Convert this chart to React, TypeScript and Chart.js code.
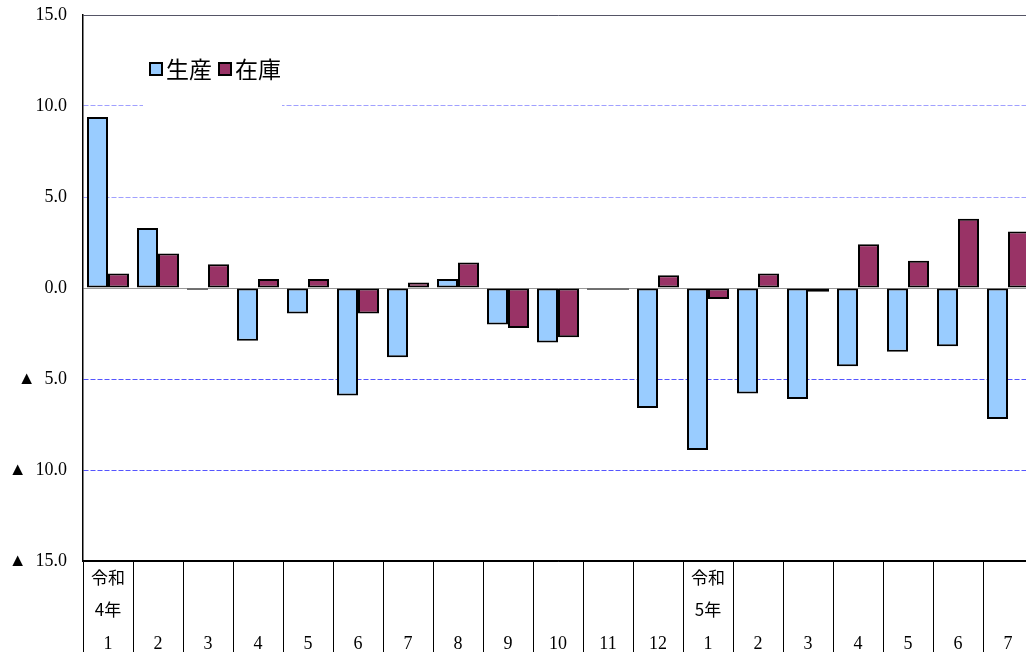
import React, { useEffect, useRef } from "react";
import { Chart, registerables } from "chart.js";

Chart.register(...registerables);

const months = ["1", "2", "3", "4", "5", "6", "7", "8", "9", "10", "11", "12", "1", "2", "3", "4", "5", "6", "7"];
const eraLabels = ["令和\n4年", "", "", "", "", "", "", "", "", "", "", "", "令和\n5年", "", "", "", "", "", ""];
const production = [9.4, 3.3, -0.1, -2.9, -1.4, -5.9, -3.8, 0.5, -2.0, -3.0, -0.1, -6.6, -8.9, -5.8, -6.1, -4.3, -3.5, -3.2, -7.2];
const inventory = [0.8, 1.9, 1.3, 0.5, 0.5, -1.4, 0.3, 1.4, -2.2, -2.7, -0.1, 0.7, -0.6, 0.8, -0.2, 2.4, 1.5, 3.8, 3.1];
const seriesNames = ["生産", "在庫"];
const seriesColors = ["#99CCFF", "#993366"];

const SERIF = "'Liberation Serif', 'DejaVu Serif', 'Noto Sans CJK JP', serif";
const CJK = "'Noto Sans CJK JP', 'Liberation Serif', serif";

const xLabelPlugin = {
  id: "xLabelPlugin",
  afterDraw(chart: any) {
    const ctx = chart.ctx;
    const xs = chart.scales.x;
    ctx.save();
    ctx.fillStyle = "#000";
    ctx.textAlign = "center";
    ctx.textBaseline = "middle";
    months.forEach((m, i) => {
      const x = xs.getPixelForValue(i);
      ctx.font = `18px ${SERIF}`;
      ctx.fillText(m, x, 644);
      const era = eraLabels[i];
      if (era) {
        const lines = era.split("\n");
        ctx.font = `17px ${CJK}`;
        ctx.fillText(lines[0], x, 578);
        ctx.fillText(lines[1], x, 610);
      }
    });
    ctx.restore();
  },
};

const legendPlugin = {
  id: "customLegend",
  beforeDatasetsDraw(chart: any) {
    const ctx = chart.ctx;
    ctx.save();
    ctx.fillStyle = "#fff";
    ctx.fillRect(143, 45, 139, 66);
    ctx.font = `23px ${CJK}`;
    ctx.textBaseline = "middle";
    ctx.textAlign = "left";
    let x = 150;
    const y = 69;
    chart.data.datasets.forEach((ds: any) => {
      ctx.fillStyle = ds.backgroundColor;
      ctx.fillRect(x, y - 6, 12, 12);
      ctx.strokeStyle = "#000";
      ctx.lineWidth = 2;
      ctx.strokeRect(x, y - 6, 12, 12);
      ctx.fillStyle = "#000";
      ctx.fillText(ds.label, x + 16, y);
      x += 16 + ctx.measureText(ds.label).width + 7;
    });
    ctx.restore();
  },
};

function tickVal(c: any): number {
  return c && c.tick ? Math.round(Number(c.tick.value)) : 999;
}

function gridColor(v: number) {
  if (v === 15) return "#555566";
  if (v === 10 || v === 5) return "#a0a0ff";
  if (v === 0) return "#999999";
  if (v === -5 || v === -10) return "#5555ff";
  return "#000000";
}

export default function App() {
  const ref = useRef<HTMLCanvasElement>(null);
  useEffect(() => {
    if (!ref.current) return;
    const chart = new Chart(ref.current, {
      type: "bar",
      data: {
        labels: months,
        datasets: [
          {
            label: seriesNames[0],
            data: production,
            backgroundColor: seriesColors[0],
            borderColor: "#000",
            borderWidth: 2,
            borderSkipped: false,
            categoryPercentage: 0.84,
            barPercentage: 1,
          },
          {
            label: seriesNames[1],
            data: inventory,
            backgroundColor: seriesColors[1],
            borderColor: "#000",
            borderWidth: 2,
            borderSkipped: false,
            categoryPercentage: 0.84,
            barPercentage: 1,
          },
        ],
      },
      options: {
        animation: false,
        responsive: false,
        devicePixelRatio: 1,
        layout: { padding: { top: 15, right: 7, left: 0, bottom: 0 } },
        plugins: { legend: { display: false }, tooltip: { enabled: false } },
        scales: {
          x: {
            offset: true,
            grid: {
              offset: true,
              drawOnChartArea: false,
              drawTicks: true,
              tickLength: 91,
              color: "#000",
              tickColor: "#000",
              lineWidth: 1,
            },
            border: { display: true, color: "#000", width: 1.5 },
            ticks: { display: false },
          },
          y: {
            min: -15,
            max: 15,
            afterFit: (s: any) => {
              s.width = 83;
            },
            ticks: {
              stepSize: 5,
              padding: 0,
              color: "#000",
              font: { family: SERIF, size: 18 },
              callback: (v: any) => {
                const n = Number(v);
                return n < 0 ? `▲  ${Math.abs(n).toFixed(1)}` : n.toFixed(1);
              },
            },
            grid: {
              drawTicks: true,
              tickLength: 16,
              tickColor: "rgba(0,0,0,0)",
              color: (c: any) => gridColor(tickVal(c)),
              lineWidth: 1,
            },
            border: {
              display: true,
              color: "#000",
              width: 1.5,
              dash: (c: any) => {
                const v = tickVal(c);
                return v === 10 || v === 5 || v === -5 || v === -10 ? [5, 2] : [];
              },
            },
          },
        },
      },
      plugins: [xLabelPlugin, legendPlugin],
    });
    return () => chart.destroy();
  }, []);
  return (
    <div style={{ position: "absolute", left: 0, top: 0, width: 1026, height: 652, overflow: "hidden", background: "#fff" }}>
      <canvas ref={ref} width={1040} height={652} style={{ display: "block" }} />
    </div>
  );
}
